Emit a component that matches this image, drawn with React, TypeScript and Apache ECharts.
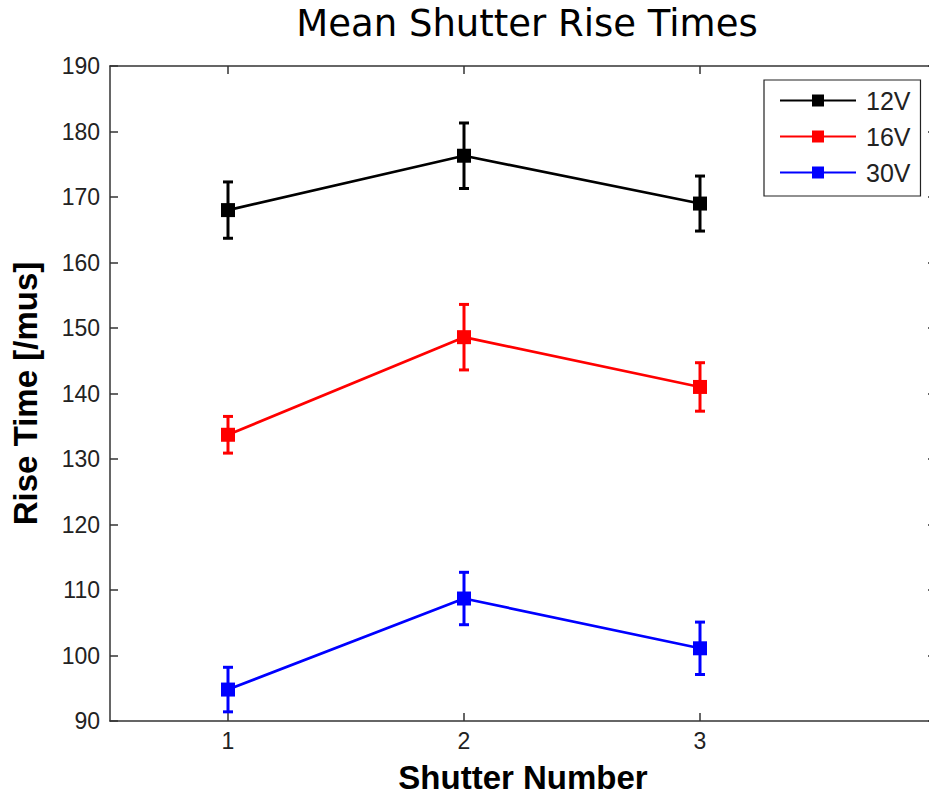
import React, { useEffect, useRef } from "react";
import * as echarts from "echarts";

const shutters = [1, 2, 3];
const seriesNames = ["12V", "16V", "30V"];
const seriesColors = ["#000000", "#ff0000", "#0000ff"];
const mean12V = [168.0, 176.3, 169.0];
const err12V = [4.3, 5.0, 4.2];
const mean16V = [133.7, 148.6, 141.0];
const err16V = [2.8, 5.0, 3.7];
const mean30V = [94.8, 108.7, 101.1];
const err30V = [3.4, 4.0, 4.0];

const means = [mean12V, mean16V, mean30V];
const errs = [err12V, err16V, err30V];

export default function App() {
  const ref = useRef<HTMLDivElement>(null);
  useEffect(() => {
    document.body.style.margin = "0";
    const chart = echarts.init(ref.current!, null, { renderer: "svg" });
    const font = "Liberation Sans";
    const axisLine = { show: true, lineStyle: { color: "#333", width: 1.5 } };
    const series: any[] = [];
    means.forEach((m, i) => {
      series.push({
        type: "line",
        name: seriesNames[i],
        data: shutters.map((x, j) => [x, m[j]]),
        symbol: "rect",
        symbolSize: 14,
        z: 3,
        itemStyle: { color: seriesColors[i] },
        lineStyle: { color: seriesColors[i], width: 2.7 },
      });
      series.push({
        type: "custom",
        name: seriesNames[i] + " error",
        data: shutters.map((x, j) => [x, m[j] - errs[i][j], m[j] + errs[i][j]]),
        encode: { x: 0, y: [1, 2] },
        z: 2,
        itemStyle: { color: seriesColors[i] },
        renderItem: (params: any, api: any) => {
          const x = api.value(0);
          const lo = api.coord([x, api.value(1)]);
          const hi = api.coord([x, api.value(2)]);
          const cap = 5;
          const style = { stroke: seriesColors[i], lineWidth: 3 };
          return {
            type: "group",
            children: [
              { type: "line", shape: { x1: lo[0], y1: lo[1], x2: hi[0], y2: hi[1] }, style },
              { type: "line", shape: { x1: lo[0] - cap, y1: lo[1], x2: lo[0] + cap, y2: lo[1] }, style },
              { type: "line", shape: { x1: hi[0] - cap, y1: hi[1], x2: hi[0] + cap, y2: hi[1] }, style },
            ],
          };
        },
      });
    });
    chart.setOption({
      animation: false,
      backgroundColor: "#ffffff",
      title: {
        text: "Mean Shutter Rise Times",
        left: 522,
        top: 0,
        textAlign: "center",
        textStyle: { fontFamily: "DejaVu Sans", fontSize: 37, fontWeight: "normal", color: "#000" },
      },
      legend: {
        data: seriesNames,
        orient: "vertical",
        left: 764,
        top: 80,
        itemWidth: 76,
        itemHeight: 15,
        itemGap: 11,
        padding: [8, 10, 11, 15],
        borderColor: "#222",
        borderWidth: 1.2,
        backgroundColor: "#fff",
        textStyle: { fontFamily: font, fontSize: 25, color: "#222", lineHeight: 25, padding: [0, 0, 0, 5] },
      },
      grid: { left: 110, top: 66, width: 826, height: 655, outerBoundsMode: "none", containLabel: false },
      xAxis: [
        {
          type: "value",
          min: 0.5,
          max: 4,
          position: "bottom",
          name: "Shutter Number",
          nameLocation: "middle",
          nameGap: 40,
          nameTextStyle: { fontFamily: font, fontSize: 33, fontWeight: "bold", color: "#000" },
          axisLine,
          axisTick: { show: true, inside: true, length: 8, customValues: shutters, lineStyle: { color: "#333", width: 1.5 } },
          axisLabel: { customValues: shutters, fontFamily: font, fontSize: 23, color: "#222", margin: 8 },
          splitLine: { show: false },
        },
        {
          type: "value",
          min: 0.5,
          max: 4,
          position: "top",
          axisLine,
          axisTick: { show: true, inside: true, length: 8, customValues: shutters, lineStyle: { color: "#333", width: 1.5 } },
          axisLabel: { show: false },
          splitLine: { show: false },
        },
      ],
      yAxis: [
        {
          type: "value",
          min: 90,
          max: 190,
          interval: 10,
          position: "left",
          name: "Rise Time [/mus]",
          nameLocation: "middle",
          nameRotate: 90,
          nameGap: 68,
          nameTextStyle: { fontFamily: font, fontSize: 33, fontWeight: "bold", color: "#000" },
          axisLine,
          axisTick: { show: true, inside: true, length: 8, lineStyle: { color: "#333", width: 1.5 } },
          axisLabel: { fontFamily: font, fontSize: 23, color: "#222", margin: 10 },
          splitLine: { show: false },
        },
        {
          type: "value",
          min: 90,
          max: 190,
          interval: 10,
          position: "right",
          axisLine,
          axisTick: { show: true, inside: true, length: 8, lineStyle: { color: "#333", width: 1.5 } },
          axisLabel: { show: false },
          splitLine: { show: false },
        },
      ],
      series,
    });
    return () => chart.dispose();
  }, []);
  return (
    <div style={{ position: "absolute", left: 0, top: 0, width: 929, height: 800, overflow: "hidden", background: "#fff" }}>
      <div ref={ref} style={{ position: "absolute", left: 0, top: 0, width: 950, height: 800 }} />
    </div>
  );
}
